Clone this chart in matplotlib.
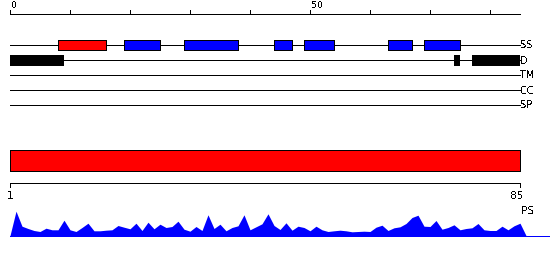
import matplotlib
matplotlib.use("Agg")
import matplotlib.pyplot as plt
from matplotlib.patches import Rectangle

# ---------------- data ----------------
seq_len = 85
helix_segments = [(8, 16)]
strand_segments = [(19, 25), (29, 38), (44, 47), (49, 54), (63, 67), (69, 75)]
disorder_segments = [(0, 9), (74, 75), (77, 85)]
tm_segments = []
cc_segments = []
sp_segments = []
row_labels = ["SS", "D", "TM", "CC", "SP"]
top_ticks = [0, 10, 20, 30, 40, 50, 60, 70, 80]
top_tick_labels = ["0", "", "", "", "", "50", "", "", ""]
domain_range = (1, 85)
domain_tick_labels = ["1", "85"]
ps_positions = list(range(0, 87))
ps_values = [0, 24.3, 9.3, 7, 5, 4, 7.3, 5.7, 5.7, 15.3,
             5.7, 4, 8, 12.3, 4.7, 4.7, 5.3, 5.7, 10, 8.3,
             6.7, 12.3, 5, 13.3, 6.7, 11.3, 8, 9, 14.3, 6.3,
             4.3, 9, 5, 20.7, 7, 11.3, 4.7, 8, 9.7, 20.7,
             5.7, 8.7, 11.7, 21.7, 10, 6, 12.7, 5.3, 9.3, 8,
             4.7, 9.3, 5.7, 4, 4.7, 5.3, 4.7, 3.7, 4, 4.3,
             4, 8.3, 10.3, 5, 7.7, 8.7, 12, 18, 20.3, 9.3,
             9, 15, 6.3, 8, 10.7, 5.7, 7, 7.7, 12, 5.7,
             5, 5, 9.3, 5.7, 9.7, 12.3, 0]

# ---------------- style ----------------
plt.rcParams['font.family'] = ['DejaVu Sans']
plt.rcParams['text.antialiased'] = False
W, H, DPI = 550, 260, 100
PX = 72.0 / DPI
LW = 1 * PX
fs_small = 6.8
fs_row = 7.0
fs_dom = 7.6

fig = plt.figure(figsize=(W / DPI, H / DPI), dpi=DPI)
fig.patch.set_facecolor('white')

# feature axes: residue 0 -> px 10, 1 residue = 6 px
ax = fig.add_axes([0, 0, 1, 1])
ax.set_xlim(-10 / 6, (W - 10) / 6)
ax.set_ylim(H, 0)
ax.axis('off')

# top ruler
axis_y = 14
ax.plot([0, seq_len], [axis_y, axis_y], color='black', lw=LW, antialiased=False,
        solid_capstyle='butt')
ax.vlines(top_ticks, axis_y - 4, axis_y, color='black', lw=LW, antialiased=False)
for t, lab in zip(top_ticks, top_tick_labels):
    if lab:
        ax.text(t + 0.2, 8.5, lab, ha='left', va='baseline', fontsize=fs_small)

row_y = [45, 60, 75, 90, 105]
for y, lab in zip(row_y, row_labels):
    ax.plot([0, seq_len], [y, y], color='black', lw=LW, antialiased=False,
            solid_capstyle='butt', zorder=1)
    ax.text(seq_len + 0.05, y + 0.5, lab, ha='left', va='center', fontsize=fs_row)

def boxes(segs, y, h, color):
    for s, e in segs:
        ax.add_patch(Rectangle((s, y - h / 2), e - s, h, facecolor=color,
                               edgecolor='black', lw=LW, antialiased=False, zorder=3))

boxes(helix_segments, row_y[0], 10, '#ff0000')
boxes(strand_segments, row_y[0], 10, '#0000ff')
for s, e in disorder_segments:
    ax.add_patch(Rectangle((s, row_y[1] - 5), e - s, 10.5, facecolor='black',
                           edgecolor='black', lw=0, antialiased=False, zorder=3))
for segs, y in zip([tm_segments, cc_segments, sp_segments], row_y[2:]):
    boxes(segs, y, 10, '#888888')

# PS profile
base_y = 235.5
ax.fill_between(ps_positions, base_y, [base_y - v for v in ps_values],
                color='#0000ff', lw=0, zorder=2)
ax.plot([0, (W - 10) / 6], [base_y, base_y], color='#0000ff', lw=LW,
        antialiased=False, zorder=2)
ax.text(seq_len + 0.15, 211, "PS", ha='left', va='center', fontsize=fs_dom)

# domain axes: residue 1 -> px 10, residue 85 -> px 520
ax2 = fig.add_axes([0, 0, 1, 1])
d0, d1 = domain_range
k = (d1 - d0) / 510.0
ax2.set_xlim(d0 - 10 * k, d0 + (W - 10) * k)
ax2.set_ylim(H, 0)
ax2.axis('off')
ax2.patch.set_alpha(0)
ax2.add_patch(Rectangle((d0, 150), d1 - d0, 21, facecolor='#ff0000',
                        edgecolor='black', lw=LW, antialiased=False))
ax2.plot([d0, d1], [182.5, 182.5], color='black', lw=LW, antialiased=False,
         solid_capstyle='butt')
ax2.vlines([d0, d1], 182.5, 186.5, color='black', lw=LW, antialiased=False)
ax2.text(d0 + 0.1, 199, domain_tick_labels[0], ha='center', va='baseline', fontsize=fs_dom)
ax2.text(d1 + 0.6, 199, domain_tick_labels[1], ha='right', va='baseline', fontsize=fs_dom)

fig.savefig('out.png', dpi=DPI, facecolor='white')
